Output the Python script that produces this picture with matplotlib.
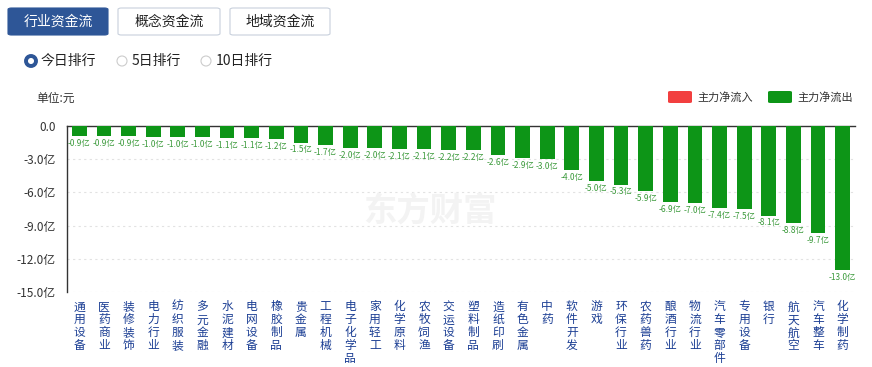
import matplotlib
matplotlib.use("Agg")
import matplotlib.pyplot as plt
from matplotlib.patches import FancyBboxPatch, Circle

plt.rcParams['font.family'] = ['Noto Sans CJK SC', 'DejaVu Sans']

categories = ["通用设备", "医药商业", "装修装饰", "电力行业", "纺织服装", "多元金融", "水泥建材",
              "电网设备", "橡胶制品", "贵金属", "工程机械", "电子化学品", "家用轻工", "化学原料",
              "农牧饲渔", "交运设备", "塑料制品", "造纸印刷", "有色金属", "中药", "软件开发",
              "游戏", "环保行业", "农药兽药", "酿酒行业", "物流行业", "汽车零部件", "专用设备",
              "银行", "航天航空", "汽车整车", "化学制药"]
values = [-0.9, -0.9, -0.9, -1.0, -1.0, -1.0, -1.1, -1.1, -1.2, -1.5, -1.7, -2.0, -2.0, -2.1,
          -2.1, -2.2, -2.2, -2.6, -2.9, -3.0, -4.0, -5.0, -5.3, -5.9, -6.9, -7.0, -7.4, -7.5,
          -8.1, -8.8, -9.7, -13.0]
yticks = [0, -3, -6, -9, -12, -15]
ytick_labels = ["0.0", "-3.0亿", "-6.0亿", "-9.0亿", "-12.0亿", "-15.0亿"]

W, H = 872, 367
fig = plt.figure(figsize=(W / 100, H / 100), dpi=100)

def fx(px):
    return px / W

def fy(py):
    return 1 - py / H

# Top buttons
buttons = [("行业资金流", 8, 108, True), ("概念资金流", 118, 220, False), ("地域资金流", 230, 330, False)]
for txt, x0, x1, active in buttons:
    box = FancyBboxPatch((fx(x0), fy(35)), fx(x1 - x0), (27 / H),
                         boxstyle="round,pad=0,rounding_size=0.004",
                         transform=fig.transFigure,
                         facecolor="#2e5697" if active else "white",
                         edgecolor="#2e5697" if active else "#c8d0dc", linewidth=0.8)
    fig.add_artist(box)
    fig.text(fx((x0 + x1) / 2), fy(21.5), txt, ha="center", va="center", fontsize=10,
             color="white" if active else "#222222")

# Radio buttons (drawn in inch coordinates so circles stay round)
radios = [("今日排行", 31, True), ("5日排行", 122, False), ("10日排行", 206, False)]
for txt, cx, active in radios:
    fig.add_artist(Circle((cx / 100, (H - 61) / 100), 0.05, transform=fig.dpi_scale_trans,
                          facecolor="white",
                          edgecolor="#2e5697" if active else "#cccccc",
                          linewidth=2.8 if active else 0.8))
    fig.text(fx(cx + 10), fy(61), txt, ha="left", va="center", fontsize=10, color="#222222")

# Unit label
fig.text(fx(36), fy(98), "单位:元", ha="left", va="center", fontsize=8.5, color="#333333")

# Legend
fig.add_artist(FancyBboxPatch((fx(668), fy(103)), fx(24), 12 / H,
                              boxstyle="round,pad=0,rounding_size=0.003",
                              transform=fig.transFigure, facecolor="#f23f3f", edgecolor="none"))
fig.text(fx(697), fy(97), "主力净流入", ha="left", va="center", fontsize=8, color="#333333")
fig.add_artist(FancyBboxPatch((fx(768), fy(103)), fx(24), 12 / H,
                              boxstyle="round,pad=0,rounding_size=0.003",
                              transform=fig.transFigure, facecolor="#0d9517", edgecolor="none"))
fig.text(fx(797), fy(97), "主力净流出", ha="left", va="center", fontsize=8, color="#333333")

# Watermark
fig.text(fx(430), fy(212), "东方财富", ha="center", va="center", fontsize=24, fontweight="bold",
         color="#f3f3f3", zorder=0)

ax = fig.add_axes([fx(67), fy(292), fx(855 - 67), (292 - 126) / H])
ax.patch.set_alpha(0)
x = list(range(len(categories)))
ax.bar(x, values, width=0.6, color="#0d9517", zorder=3)
for xi, v in zip(x, values):
    ax.annotate(f"{v:.1f}亿", (xi, v), xytext=(0, -2), textcoords="offset points",
                ha="center", va="top", fontsize=6, color="#3c9a3c")

ax.set_xlim(-0.5, len(categories) - 0.5)
ax.set_ylim(-15, 0)
ax.set_yticks(yticks)
ax.set_yticklabels(ytick_labels, fontsize=8.5, color="#333333")
ax.yaxis.grid(True, linestyle=(0, (2, 3)), color="#e2e2e2", linewidth=0.8)
ax.set_axisbelow(True)
ax.tick_params(axis="y", length=0, pad=8)
ax.tick_params(axis="x", length=0, pad=6)
ax.set_xticks(x)
ax.set_xticklabels(["\n".join(c) for c in categories], fontsize=8.5, color="#1c3f94",
                   va="top", linespacing=1.0)
for s in ["right", "bottom"]:
    ax.spines[s].set_visible(False)
ax.spines["left"].set_color("#333333")
ax.spines["top"].set_color("#333333")
ax.spines["left"].set_linewidth(1)
ax.spines["top"].set_linewidth(1)

fig.savefig("out.png", dpi=100)
